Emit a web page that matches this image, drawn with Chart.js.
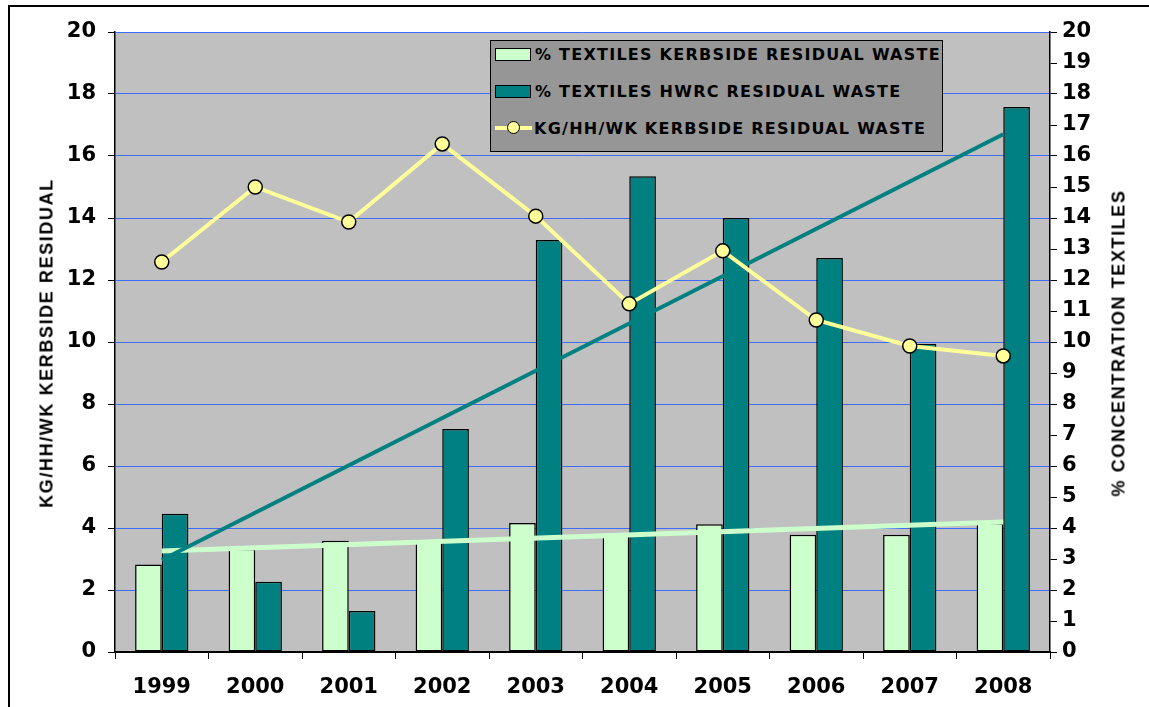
<!DOCTYPE html>
<html>
<head>
<meta charset="utf-8">
<script src="https://cdn.jsdelivr.net/npm/chart.js@4/dist/chart.umd.min.js"></script>
<style>
    body { margin: 0; background: #fff; }
    #wrap { position: relative; width: 1149px; height: 707px; overflow: hidden; }
    #frame { position: absolute; left: 8px; top: 5px; width: 1200px; height: 800px; border-left: 2px solid #000; border-top: 2px solid #000; }
    canvas { position: absolute; left: 0; top: 0; }
    .axisTitle { position: absolute; font: bold 18px "Liberation Sans", Arial, sans-serif; letter-spacing: 1.6px; white-space: nowrap; transform: translate(-50%, -50%) rotate(-90deg); color: #000; }
    #legend { position: absolute; left: 490px; top: 40px; width: 451px; height: 110px; background: #969696; border: 1.5px solid #000; }
    .item { position: absolute; left: 4px; height: 20px; display: flex; align-items: center; font: bold 16px "DejaVu Sans", Verdana, sans-serif; letter-spacing: 1.25px; color: #000; white-space: nowrap; }
    .swatch { width: 34px; height: 11px; border: 1.5px solid #000; margin-right: 4px; }
    .lineSym { position: relative; width: 37px; height: 12px; margin-right: 2px; }
    .lineSym .ln { position: absolute; left: 0; right: 0; top: 4px; height: 4px; background: #ffff99; }
    .lineSym .dot { position: absolute; left: 12px; top: -1px; width: 11px; height: 11px; border-radius: 50%; background: #ffff99; border: 1.5px solid #000; }
</style>
</head>
<body>
<div id="wrap">
    <div id="frame"></div>
    <canvas id="chart" width="1149" height="707"></canvas>
    <div class="axisTitle" style="left:47px; top:343px;">KG/HH/WK KERBSIDE RESIDUAL</div>
    <div class="axisTitle" style="left:1119px; top:343px;">% CONCENTRATION TEXTILES</div>
    <div id="legend">
        <div class="item" style="top:3px;"><div class="swatch" style="background:#ccffcc"></div>% TEXTILES KERBSIDE RESIDUAL WASTE</div>
        <div class="item" style="top:40px;"><div class="swatch" style="background:#008080"></div>% TEXTILES HWRC RESIDUAL WASTE</div>
        <div class="item" style="top:77px;"><div class="lineSym"><div class="ln"></div><div class="dot"></div></div>KG/HH/WK KERBSIDE RESIDUAL WASTE</div>
    </div>
</div>
<script>
const years = ['1999', '2000', '2001', '2002', '2003', '2004', '2005', '2006', '2007', '2008'];
const kerbsideTextiles = [2.82, 3.32, 3.59, 3.62, 4.16, 3.8, 4.12, 3.78, 3.78, 4.15];
const hwrcTextiles = [4.46, 2.27, 1.32, 7.19, 13.29, 15.35, 14.0, 12.71, 9.94, 17.58];
const kgPerHousehold = [12.58, 15.0, 13.87, 16.39, 14.06, 11.23, 12.94, 10.71, 9.87, 9.55];
// trend line ends
const kerbsideTrend = [3.26, null, null, null, null, null, null, null, null, 4.19];
const hwrcTrend = [2.97, null, null, null, null, null, null, null, null, 16.7];
const leftTicks = [0, 2, 4, 6, 8, 10, 12, 14, 16, 18, 20];
const rightTicks = [0, 1, 2, 3, 4, 5, 6, 7, 8, 9, 10, 11, 12, 13, 14, 15, 16, 17, 18, 19, 20];

const tickFont = { family: 'DejaVu Sans', weight: 'bold', size: 21 };

const plotBackground = {
    id: 'plotBackground',
    beforeDraw(chart) {
        const { ctx, chartArea } = chart;
        ctx.save();
        ctx.fillStyle = '#c0c0c0';
        ctx.fillRect(chartArea.left, chartArea.top, chartArea.right - chartArea.left, chartArea.bottom - chartArea.top);
        ctx.restore();
    }
};

new Chart(document.getElementById('chart'), {
    type: 'bar',
    data: {
        labels: years,
        datasets: [
            {
                type: 'line',
                label: 'KG/HH/WK KERBSIDE RESIDUAL WASTE',
                data: kgPerHousehold,
                yAxisID: 'y',
                borderColor: '#ffff99',
                borderWidth: 4,
                pointRadius: 7,
                pointBackgroundColor: '#ffff99',
                pointBorderColor: '#000',
                pointBorderWidth: 1.5,
                order: 0
            },
            {
                type: 'line',
                label: 'trend HWRC',
                data: hwrcTrend,
                yAxisID: 'y1',
                spanGaps: true,
                borderColor: '#008080',
                borderWidth: 4,
                pointRadius: 0,
                order: 1
            },
            {
                type: 'line',
                label: 'trend kerbside',
                data: kerbsideTrend,
                yAxisID: 'y1',
                spanGaps: true,
                borderColor: '#ccffcc',
                borderWidth: 5,
                pointRadius: 0,
                order: 1
            },
            {
                label: '% TEXTILES KERBSIDE RESIDUAL WASTE',
                data: kerbsideTextiles,
                yAxisID: 'y1',
                backgroundColor: '#ccffcc',
                borderColor: '#000',
                borderWidth: 1.5,
                borderSkipped: false,
                categoryPercentage: 0.57,
                barPercentage: 1.0,
                order: 2
            },
            {
                label: '% TEXTILES HWRC RESIDUAL WASTE',
                data: hwrcTextiles,
                yAxisID: 'y1',
                backgroundColor: '#008080',
                borderColor: '#000',
                borderWidth: 1.5,
                borderSkipped: false,
                categoryPercentage: 0.57,
                barPercentage: 1.0,
                order: 2
            }
        ]
    },
    options: {
        responsive: false,
        animation: false,
        layout: { padding: { top: 32, left: 0, right: 0, bottom: 0 } },
        plugins: {
            legend: { display: false },
            tooltip: { enabled: false }
        },
        scales: {
            x: {
                grid: { offset: true, drawOnChartArea: false, tickLength: 7, color: '#000', lineWidth: 1 },
                border: { color: '#000', width: 2 },
                ticks: { color: '#000', font: tickFont, padding: 16 },
                afterFit(scale) { scale.height = 55; }
            },
            y: {
                position: 'left',
                min: 0,
                max: 20,
                afterBuildTicks(scale) { scale.ticks = leftTicks.map(v => ({ value: v })); },
                grid: { color: '#3d6cff', lineWidth: 1, tickLength: 7, tickColor: '#000' },
                border: { color: '#000', width: 1.5 },
                ticks: { color: '#000', font: tickFont, padding: 12 },
                afterFit(scale) { scale.width = 115; }
            },
            y1: {
                position: 'right',
                min: 0,
                max: 20,
                afterBuildTicks(scale) { scale.ticks = rightTicks.map(v => ({ value: v })); },
                grid: { drawOnChartArea: false, tickLength: 7, color: '#000' },
                border: { color: '#000', width: 1.5 },
                ticks: { color: '#000', font: tickFont, padding: 5 },
                afterFit(scale) { scale.width = 99; }
            }
        }
    },
    plugins: [plotBackground]
});
</script>
</body>
</html>
